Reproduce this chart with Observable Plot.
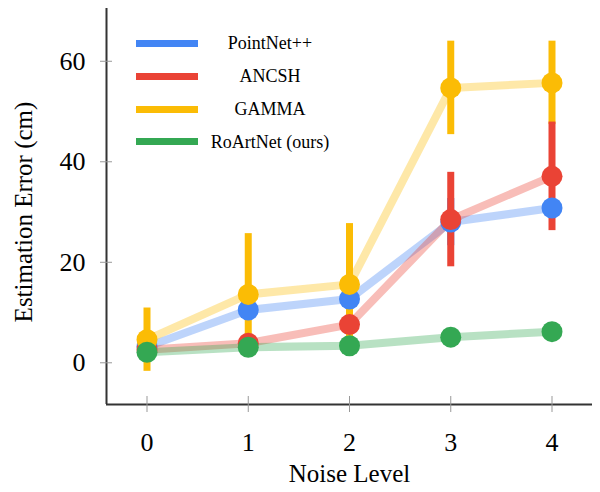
<!DOCTYPE html>
<html>
<head>
<meta charset="utf-8">
<script src="https://cdn.jsdelivr.net/npm/d3@7"></script>
<script src="https://cdn.jsdelivr.net/npm/@observablehq/plot@0.6"></script>
<style>
  html, body { margin: 0; padding: 0; background: #fff; }
  #wrap { position: relative; width: 600px; height: 492px; font-family: "Liberation Serif", "Times New Roman", serif; }
  #wrap svg text { font-family: "Liberation Serif", "Times New Roman", serif; }
  #legend { position: absolute; left: 0; top: 0; width: 600px; height: 0; }
  .row { position: absolute; left: 0; width: 600px; height: 24px; }
  .sw { position: absolute; left: 136px; top: 8.5px; width: 62px; height: 7px; }
  .lab { position: absolute; left: 170px; width: 200px; text-align: center; top: 0; line-height: 24px; font-size: 18px; color: #000; }
</style>
</head>
<body>
<div id="wrap"><div id="legend"></div></div>
<script>
// ---- data ----
const noise = [0, 1, 2, 3, 4];
const series = ["PointNet++", "ANCSH", "GAMMA", "RoArtNet (ours)"];
const colors = ["#4285F4", "#EA4335", "#FBBC05", "#34A853"];
const pointnetMean = [3.2, 10.5, 12.7, 28.0, 30.8];
const pointnetErr  = [0.8, 1.0, 1.0, 4.7, 1.5];
const ancshMean    = [2.6, 3.9, 7.6, 28.5, 37.1];
const ancshErr     = [0.8, 1.0, 1.5, 9.4, 10.8];
const gammaMean    = [4.6, 13.6, 15.6, 54.7, 55.7];
const gammaErr     = [6.3, 12.1, 12.1, 9.3, 8.3];
const roartMean    = [2.1, 3.1, 3.4, 5.1, 6.2];
const roartErr     = [0.5, 0.5, 0.5, 0.5, 0.5];
const xTicks = [0, 1, 2, 3, 4];
const yTicks = [0, 20, 40, 60];
const xDomain = [-0.4, 4.4];
const yDomain = [-8.3, 70.5];
const xTitle = "Noise Level";
const yTitle = "Estimation Error (cm)";

// ---- build table ----
const means = [pointnetMean, ancshMean, gammaMean, roartMean];
const errs = [pointnetErr, ancshErr, gammaErr, roartErr];
const rows = [];
series.forEach((s, si) => noise.forEach((n, i) => rows.push({
  series: s, x: n, y: means[si][i], lo: means[si][i] - errs[si][i], hi: means[si][i] + errs[si][i]
})));
const bySeries = s => rows.filter(r => r.series === s);
const color = s => colors[series.indexOf(s)];

const barOrder = ["GAMMA", "PointNet++", "ANCSH", "RoArtNet (ours)"];
const dotOrder = ["PointNet++", "ANCSH", "GAMMA", "RoArtNet (ours)"];

const font = "Liberation Serif";
const fmt = d => String(d);

const plot = Plot.plot({
  width: 600,
  height: 492,
  marginLeft: 106,
  marginRight: 8,
  marginTop: 8,
  marginBottom: 88,
  style: "font-family: 'Liberation Serif', serif; background: #fff;",
  x: { domain: xDomain },
  y: { domain: yDomain },
  marks: [
    // error bars
    ...barOrder.map(s => Plot.ruleX(bySeries(s), { x: "x", y1: "lo", y2: "hi", stroke: color(s), strokeWidth: 7 })),
    // translucent lines
    ...series.map(s => Plot.line(bySeries(s), { x: "x", y: "y", stroke: color(s), strokeWidth: 8, strokeOpacity: 0.35 })),
    // dots
    ...dotOrder.map(s => Plot.dot(bySeries(s), { x: "x", y: "y", fill: color(s), r: 10.5 })),
    // axis lines
    Plot.ruleX([xDomain[0]], { stroke: "#333", strokeWidth: 2 }),
    Plot.ruleY([yDomain[0]], { stroke: "#333", strokeWidth: 2 }),
    // tick marks crossing axes
    Plot.axisY({ ticks: yTicks, tickSize: 12, dx: 6, tickFormat: () => "", stroke: "#999", label: null }),
    Plot.axisX({ ticks: xTicks, tickSize: 16, dy: -8, tickFormat: () => "", stroke: "#999", label: null }),
    // tick labels
    Plot.axisY({ ticks: yTicks, tickSize: 0, tickPadding: 21, tickFormat: fmt, fontSize: 26, fontFamily: font, fill: "#000", label: null }),
    Plot.axisX({ ticks: xTicks, tickSize: 0, tickPadding: 28, tickFormat: fmt, fontSize: 26, fontFamily: font, fill: "#000", label: null }),
    // axis titles
    Plot.text([xTitle], { text: d => d, frameAnchor: "bottom", textAnchor: "middle", dy: 69.7, lineAnchor: "middle", fontSize: 25, fontFamily: font, fill: "#000" }),
    Plot.text([yTitle], { text: d => d, frameAnchor: "left", textAnchor: "middle", dx: -82.3, dy: 5.5, rotate: -90, lineAnchor: "middle", fontSize: 25, fontFamily: font, fill: "#000" })
  ]
});
document.getElementById("wrap").insertBefore(plot, document.getElementById("legend"));

// ---- legend overlay ----
const legendCenters = [43.3, 76, 109, 141.7];
const legend = d3.select("#legend");
series.forEach((s, i) => {
  const row = legend.append("div").attr("class", "row").style("top", (legendCenters[i] - 12) + "px");
  row.append("div").attr("class", "sw").style("background", colors[i]);
  row.append("div").attr("class", "lab").text(s);
});
</script>
</body>
</html>
